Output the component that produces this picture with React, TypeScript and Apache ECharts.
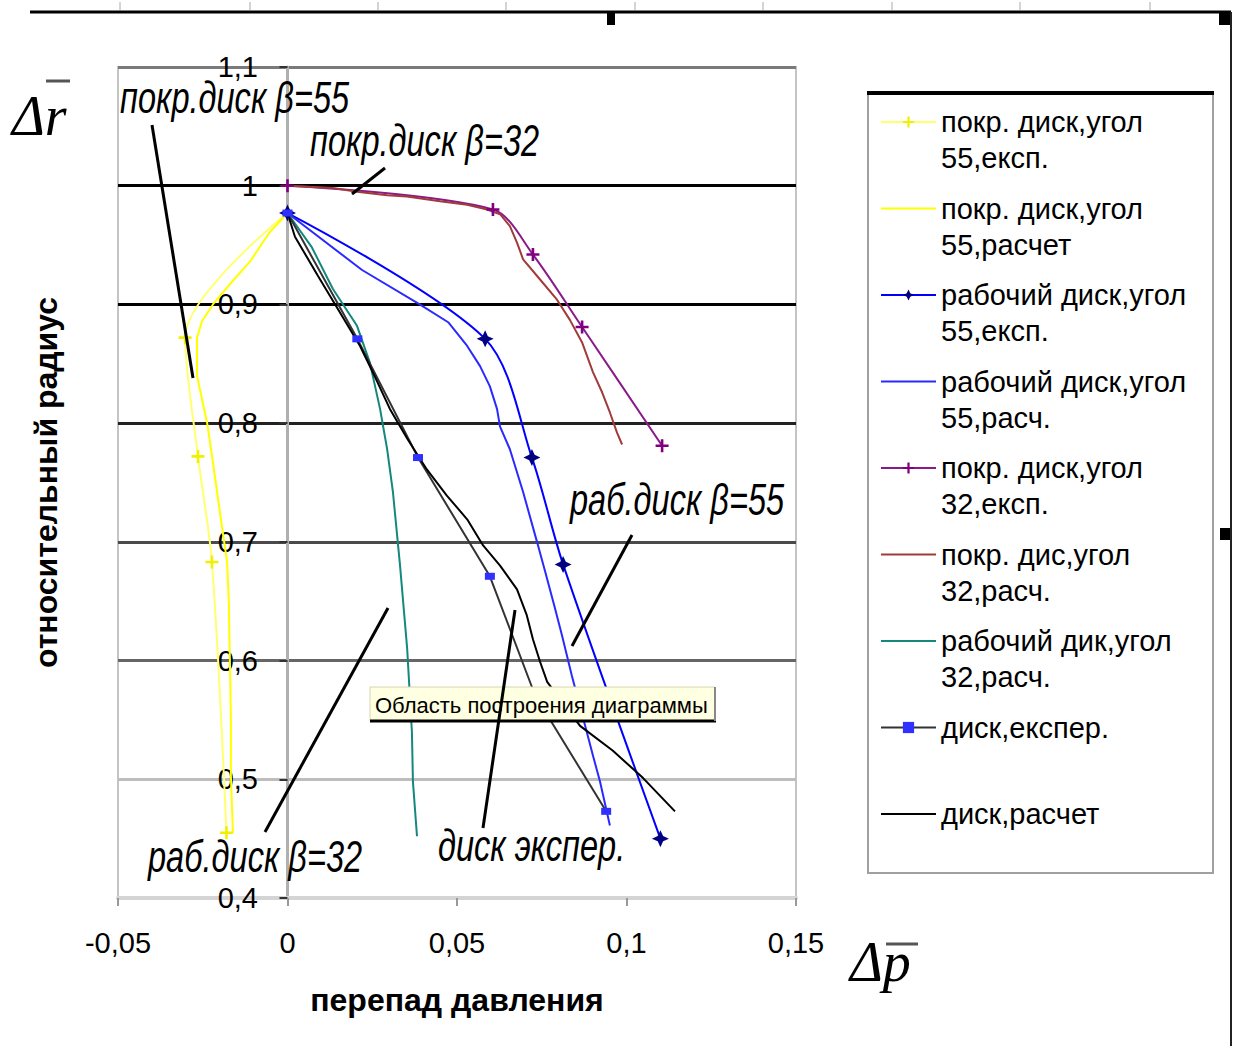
import React, { useEffect, useRef } from 'react';
import * as echarts from 'echarts';

// ---- axes ----
const xMin = -0.05;
const xMax = 0.15;
const xStep = 0.05;
const yMin = 0.4;
const yMax = 1.1;
const yStep = 0.1;

// ---- series names (legend) ----
const seriesNames = [
  'покр. диск,угол\n55,експ.',
  'покр. диск,угол\n55,расчет',
  'рабочий диск,угол\n55,експ.',
  'рабочий диск,угол\n55,расч.',
  'покр. диск,угол\n32,експ.',
  'покр. дис,угол\n32,расч.',
  'рабочий дик,угол\n32,расч.',
  'диск,експер.',
  'диск,расчет',
];

// ---- data: [pressure drop, relative radius] ----
const coverDisk55Exp = [
  [0, 0.977], [-0.0302, 0.872], [-0.0264, 0.772], [-0.0223, 0.683], [-0.018, 0.455],
];
const coverDisk55Calc = [
  [0, 0.977], [-0.0052, 0.961], [-0.0111, 0.936], [-0.017, 0.917], [-0.022, 0.9],
  [-0.0252, 0.886], [-0.0267, 0.872], [-0.0267, 0.84], [-0.0237, 0.8], [-0.0223, 0.773],
  [-0.0193, 0.712], [-0.0178, 0.683], [-0.0173, 0.648], [-0.017, 0.601], [-0.0167, 0.551],
  [-0.0167, 0.503], [-0.0161, 0.455],
];
const workDisk55Exp = [
  [0, 0.977], [0.0583, 0.871], [0.0721, 0.771], [0.0813, 0.681], [0.11, 0.45],
];
const workDisk55Calc = [
  [0, 0.977], [0.022, 0.929], [0.039, 0.9], [0.0474, 0.885], [0.053, 0.865],
  [0.0568, 0.848], [0.0597, 0.831], [0.0618, 0.812], [0.0627, 0.797], [0.0656, 0.778],
  [0.0695, 0.742], [0.0736, 0.7], [0.076, 0.675], [0.0789, 0.644], [0.081, 0.621],
  [0.0839, 0.587], [0.0878, 0.545], [0.0901, 0.52], [0.0922, 0.498], [0.0951, 0.461],
];
const coverDisk32Exp = [
  [0, 1.0], [0.0606, 0.98], [0.0724, 0.942], [0.0869, 0.881], [0.1105, 0.781],
];
const coverDisk32Calc = [
  [0, 1.0], [0.0134, 0.998], [0.0205, 0.995], [0.0294, 0.992], [0.0352, 0.991],
  [0.045, 0.987], [0.053, 0.984], [0.0589, 0.98], [0.0627, 0.976], [0.0656, 0.966],
  [0.0677, 0.952], [0.0695, 0.938], [0.0745, 0.921], [0.0795, 0.904], [0.0833, 0.887],
  [0.0869, 0.868], [0.0901, 0.843], [0.0928, 0.826], [0.0951, 0.809], [0.0972, 0.792],
  [0.0987, 0.782],
];
const workDisk32Calc = [
  [0, 0.977], [0.0072, 0.948], [0.0134, 0.913], [0.0205, 0.882], [0.0243, 0.851],
  [0.0273, 0.812], [0.0294, 0.778], [0.0311, 0.742], [0.0332, 0.68], [0.0353, 0.61],
  [0.0367, 0.54], [0.037, 0.498], [0.0382, 0.452],
];
const diskExp = [
  [0, 0.977], [0.0206, 0.871], [0.0385, 0.771], [0.0597, 0.671], [0.073, 0.571], [0.094, 0.473],
];
const diskCalc = [
  [0, 0.977], [0.0022, 0.957], [0.009, 0.924], [0.0149, 0.896], [0.0214, 0.865],
  [0.0258, 0.839], [0.0302, 0.812], [0.0353, 0.787], [0.0411, 0.761], [0.047, 0.739],
  [0.053, 0.719], [0.0577, 0.697], [0.0627, 0.68], [0.0677, 0.66], [0.0706, 0.638],
  [0.0724, 0.618], [0.0745, 0.599], [0.0766, 0.582], [0.0863, 0.545], [0.096, 0.524],
  [0.1049, 0.501], [0.1143, 0.473],
];

// ---- annotations ----
const annotationTexts = [
  'покр.диск β=55',
  'покр.диск β=32',
  'раб.диск β=55',
  'раб.диск β=32',
  'диск экспер.',
];
const tooltipText = 'Область построения диаграммы';

const FONT = "'Liberation Sans', Arial, sans-serif";
const SERIF = "'Liberation Serif', 'Times New Roman', serif";
const PLUS = 'path://M4,0H6V4H10V6H6V10H4V6H0V4H4Z';
const STAR = 'path://M5,0L6.6,3.4L10,5L6.6,6.6L5,10L3.4,6.6L0,5L3.4,3.4Z';

const fmt = (v: number) => String(Math.round(v * 1000) / 1000).replace('.', ',');

function lineSeries(name: string, data: number[][], color: string, extra: any = {}) {
  return {
    type: 'line',
    name,
    data,
    symbol: 'none',
    lineStyle: { color, width: 2 },
    itemStyle: { color },
    emphasis: { disabled: true },
    ...extra,
  };
}

// series without markers: hide the legend dot
const noMarker = [false, true, false, true, false, true, true, false, true];

export default function App() {
  const ref = useRef<HTMLDivElement>(null);

  useEffect(() => {
    if (!ref.current) return;
    const chart = echarts.init(ref.current, null, { renderer: 'svg' });

    const annLine = (x1: number, y1: number, x2: number, y2: number) => ({
      type: 'line', silent: true, z: 60,
      shape: { x1, y1, x2, y2 },
      style: { stroke: '#000', lineWidth: 3 },
    });
    const annText = (text: string, x: number, y: number) => ({
      type: 'text', silent: true, z: 60, x, y, scaleX: 0.74,
      style: {
        text, fill: '#000', fontSize: 44, fontStyle: 'italic', fontFamily: FONT,
        align: 'left', verticalAlign: 'middle',
      },
    });

    const topTicks = [120, 250, 378, 506, 635, 763, 892, 1020, 1150].map((x) => ({
      type: 'line', silent: true, shape: { x1: x, y1: 2, x2: x, y2: 10 },
      style: { stroke: '#aaa', lineWidth: 1 },
    }));

    const option: any = {
      animation: false,
      backgroundColor: '#ffffff',
      grid: {
        left: 118, top: 67, width: 678, height: 831,
        containLabel: false, outerBoundsMode: 'none',
        show: true, borderColor: '#c4c4c4', borderWidth: 2,
      },
      xAxis: {
        type: 'value', min: xMin, max: xMax, interval: xStep,
        axisLine: { onZero: false, lineStyle: { color: '#d4d4d4', width: 4 } },
        axisTick: { show: true, length: 8, lineStyle: { color: '#999', width: 2 } },
        axisLabel: { formatter: fmt, fontSize: 29, color: '#000', margin: 30, fontFamily: FONT },
        splitLine: { show: false },
        name: 'перепад давления', nameLocation: 'middle', nameGap: 86,
        nameTextStyle: { fontSize: 32, fontWeight: 'bold', color: '#000', fontFamily: FONT },
      },
      yAxis: {
        type: 'value', min: yMin, max: yMax, interval: yStep,
        axisLine: { show: true, onZero: true, lineStyle: { color: '#b0b0b0', width: 3 } },
        axisTick: { show: true, length: 8, lineStyle: { color: '#333', width: 2 } },
        axisLabel: { formatter: fmt, fontSize: 29, color: '#000', margin: -140, fontFamily: FONT },
        splitLine: {
          show: true,
          lineStyle: {
            color: ['#d8d8d8', '#bdbdbd', '#666666', '#4a4a4a', '#222222', '#000000', '#000000', '#7a7a7a'],
            width: 3,
          },
        },
        name: 'относительный радиус', nameLocation: 'middle', nameGap: 56,
        nameTextStyle: { fontSize: 32, fontWeight: 'bold', color: '#000', fontFamily: FONT },
      },
      legend: {
        orient: 'vertical', left: 880, top: 68, padding: 0,
        itemWidth: 55, itemHeight: 14, itemGap: -21.5,
        textStyle: { fontSize: 29, lineHeight: 36, color: '#000', fontFamily: FONT },
        formatter: (name: string) => '\n' + name + (name.indexOf('\n') >= 0 ? '' : '\n'),
        data: seriesNames.map((n, i) =>
          noMarker[i]
            ? { name: n, itemStyle: { color: 'rgba(0,0,0,0)', borderWidth: 0 } }
            : { name: n }
        ),
        selectedMode: false,
      },
      graphic: [
        // page frame remnants
        { type: 'line', silent: true, shape: { x1: 30, y1: 12, x2: 1231, y2: 12 }, style: { stroke: '#000', lineWidth: 3 } },
        ...topTicks,
        { type: 'rect', silent: true, shape: { x: 607, y: 12, width: 8, height: 13 }, style: { fill: '#000' } },
        { type: 'rect', silent: true, shape: { x: 1219, y: 12, width: 11, height: 13 }, style: { fill: '#000' } },
        { type: 'rect', silent: true, shape: { x: 1220, y: 528, width: 10, height: 12 }, style: { fill: '#000' } },
        { type: 'line', silent: true, shape: { x1: 1231, y1: 12, x2: 1231, y2: 1046 }, style: { stroke: '#222', lineWidth: 2 } },
        // legend frame
        { type: 'rect', silent: true, z: 0, shape: { x: 868, y: 93, width: 345, height: 780 }, style: { fill: '#fff', stroke: '#a0a0a0', lineWidth: 2 } },
        { type: 'line', silent: true, z: 1, shape: { x1: 867, y1: 93, x2: 1214, y2: 93 }, style: { stroke: '#000', lineWidth: 4 } },
        // delta symbols
        { type: 'text', silent: true, x: 12, y: 116, style: { text: 'Δr', fill: '#000', fontSize: 56, fontStyle: 'italic', fontFamily: SERIF, align: 'left', verticalAlign: 'middle' } },
        { type: 'line', silent: true, shape: { x1: 46, y1: 81, x2: 70, y2: 81 }, style: { stroke: '#555', lineWidth: 3 } },
        { type: 'text', silent: true, x: 850, y: 962, style: { text: 'Δp', fill: '#000', fontSize: 56, fontStyle: 'italic', fontFamily: SERIF, align: 'left', verticalAlign: 'middle' } },
        { type: 'line', silent: true, shape: { x1: 886, y1: 944, x2: 918, y2: 944 }, style: { stroke: '#555', lineWidth: 3 } },
        // tooltip box
        { type: 'rect', silent: true, z: 50, shape: { x: 370, y: 687, width: 345, height: 34 }, style: { fill: '#ffffe1', stroke: '#d6d6b0', lineWidth: 1 } },
        { type: 'line', silent: true, z: 51, shape: { x1: 370, y1: 721, x2: 716, y2: 721 }, style: { stroke: '#000', lineWidth: 3 } },
        { type: 'line', silent: true, z: 51, shape: { x1: 715, y1: 687, x2: 715, y2: 721 }, style: { stroke: '#888', lineWidth: 2 } },
        { type: 'text', silent: true, z: 52, x: 375, y: 705, style: { text: tooltipText, fill: '#000', fontSize: 22, fontFamily: FONT, align: 'left', verticalAlign: 'middle' } },
        // annotations
        annLine(152, 125, 193, 378),
        annLine(385, 168, 352, 194),
        annLine(632, 535, 572, 646),
        annLine(265, 832, 388, 608),
        annLine(483, 828, 515, 610),
        annText(annotationTexts[0], 120, 98),
        annText(annotationTexts[1], 310, 141),
        annText(annotationTexts[2], 570, 500),
        annText(annotationTexts[3], 148, 857),
        annText(annotationTexts[4], 438, 846),
      ],
      series: [
        lineSeries(seriesNames[0], coverDisk55Exp, '#ffff70', { symbol: PLUS, symbolSize: 13, itemStyle: { color: '#f0f000' }, smooth: 0.3 }),
        lineSeries(seriesNames[1], coverDisk55Calc, '#ffff00'),
        lineSeries(seriesNames[2], workDisk55Exp, '#0000ff', { symbol: STAR, symbolSize: 17, itemStyle: { color: '#000080' }, smooth: 0.3 }),
        lineSeries(seriesNames[3], workDisk55Calc, '#2a2aff'),
        lineSeries(seriesNames[4], coverDisk32Exp, '#8a1a8a', { symbol: PLUS, symbolSize: 13, itemStyle: { color: '#800080' }, smooth: 0.3 }),
        lineSeries(seriesNames[5], coverDisk32Calc, '#a33a3a'),
        lineSeries(seriesNames[6], workDisk32Calc, '#14887e'),
        lineSeries(seriesNames[7], diskExp, '#333333', { symbol: 'rect', symbolSize: [10, 7], itemStyle: { color: '#3030ff' } }),
        lineSeries(seriesNames[8], diskCalc, '#000000'),
      ],
    };

    chart.setOption(option);
    return () => chart.dispose();
  }, []);

  return (
    <div
      ref={ref}
      style={{ position: 'fixed', left: 0, top: 0, width: 1235, height: 1046, background: '#fff' }}
    />
  );
}
